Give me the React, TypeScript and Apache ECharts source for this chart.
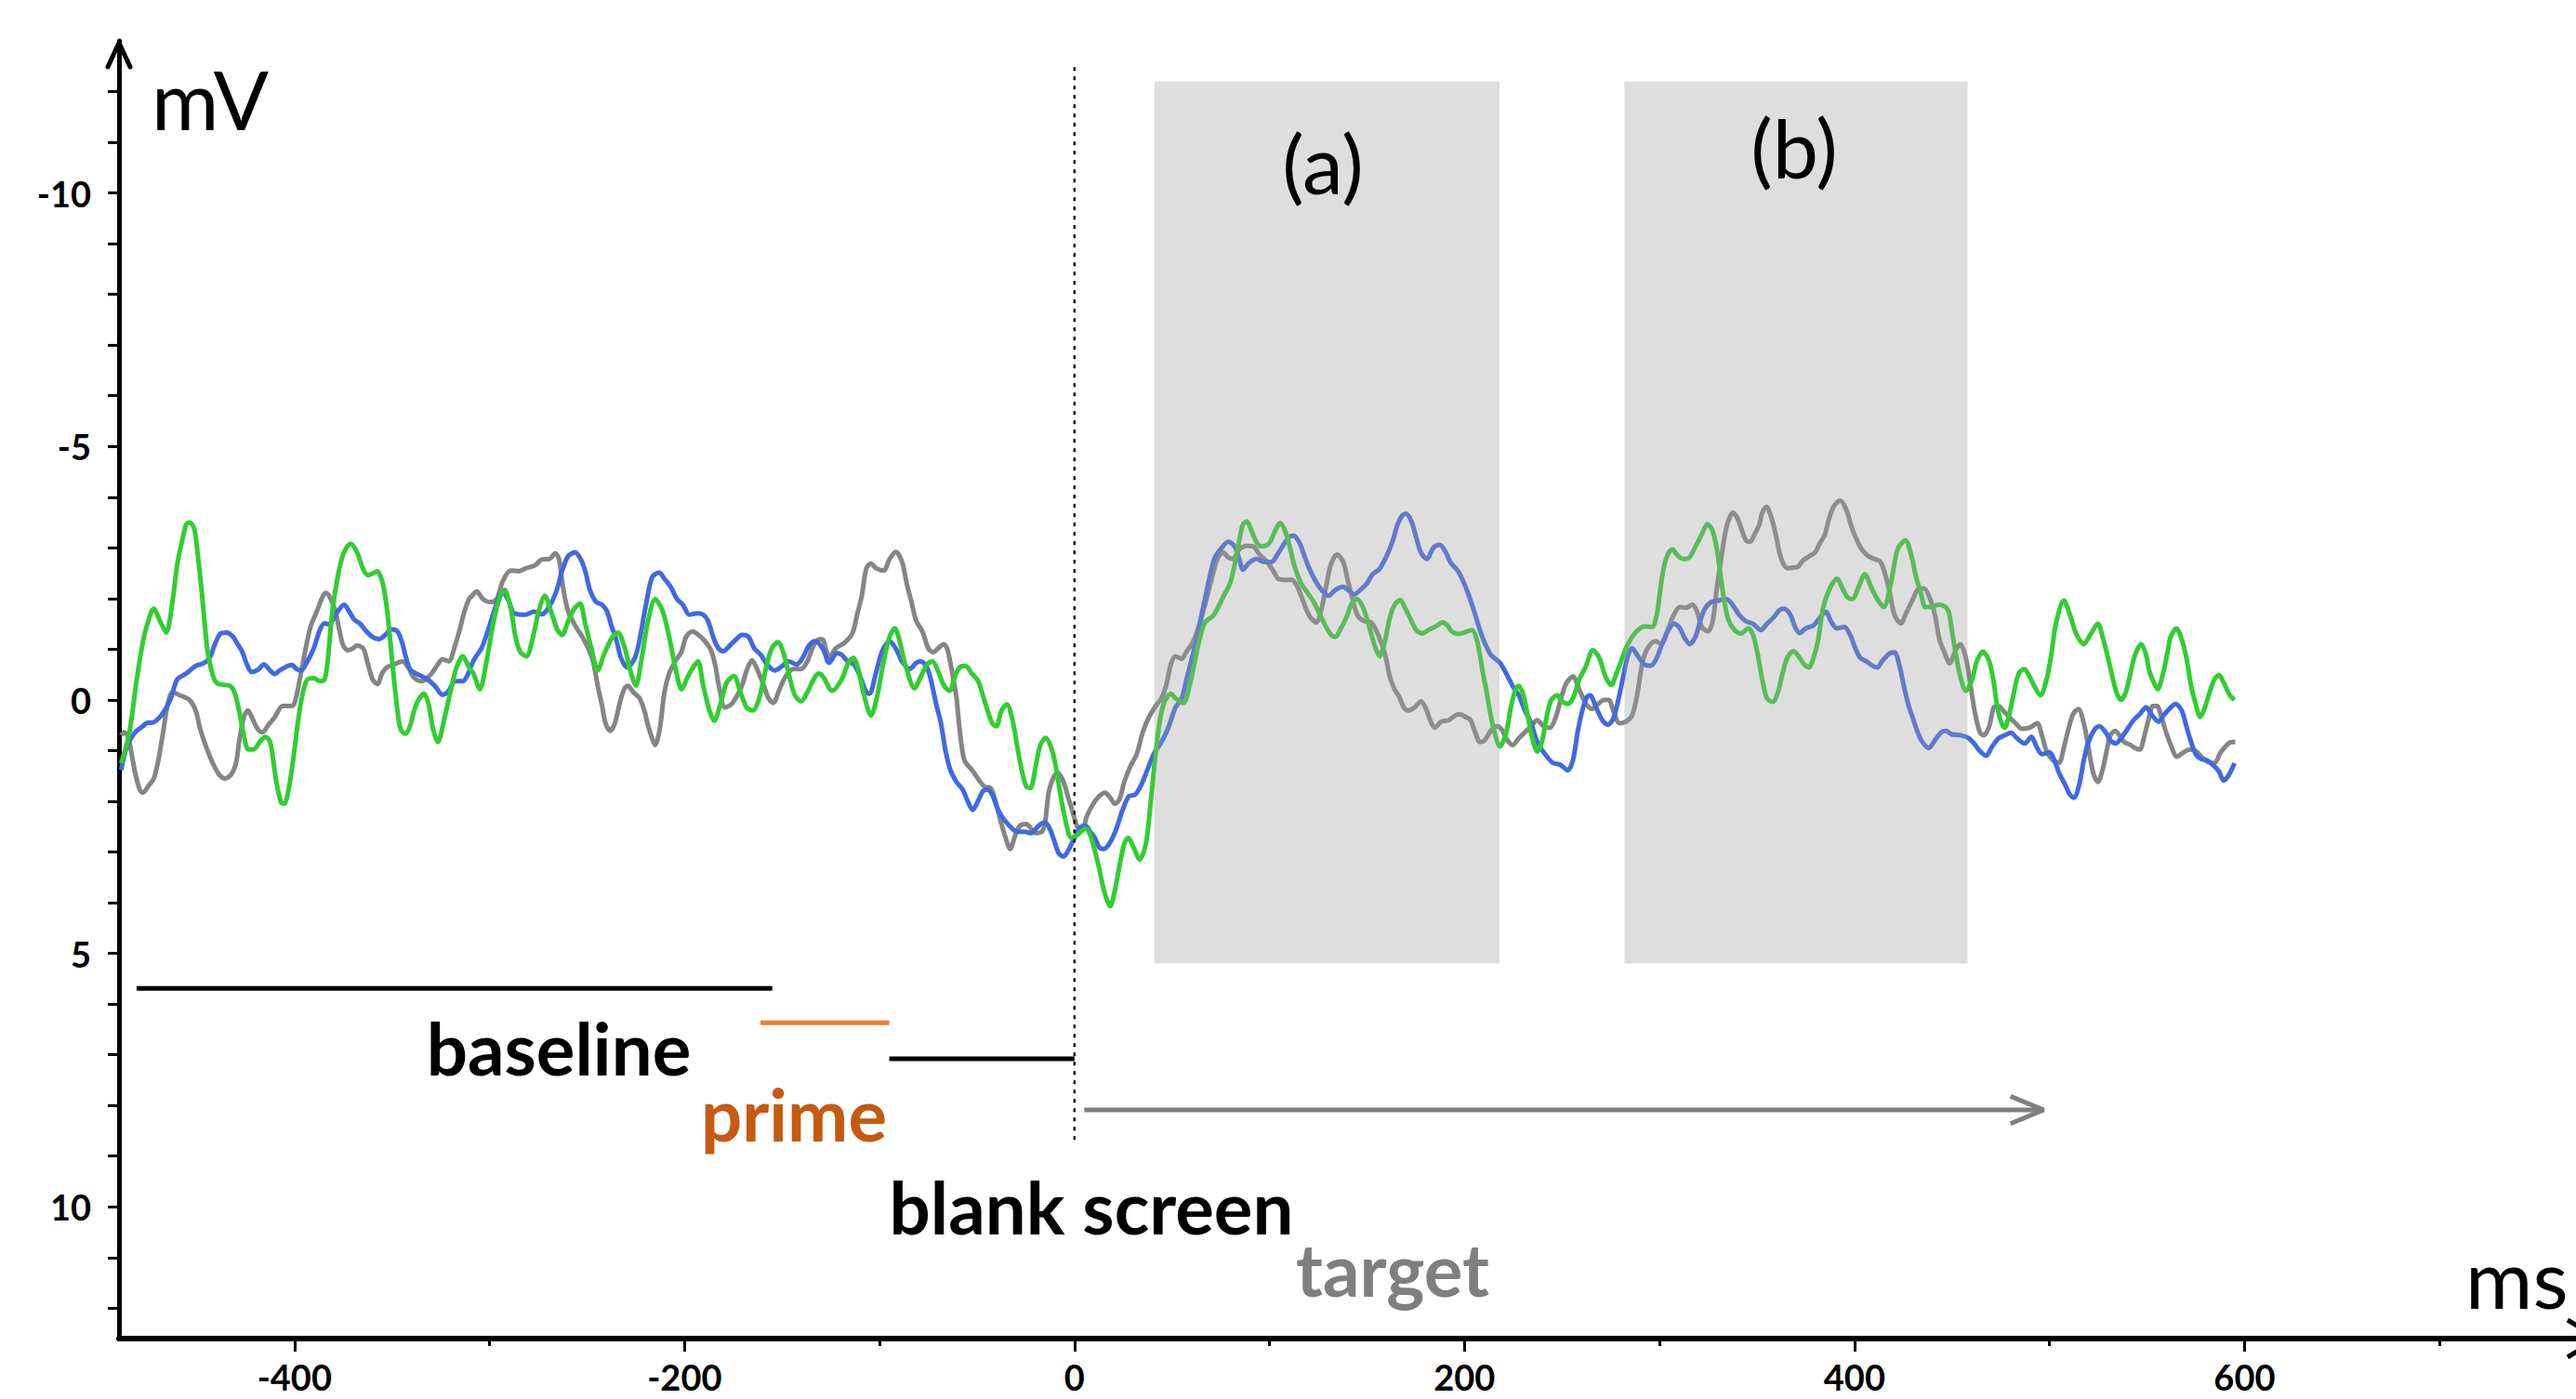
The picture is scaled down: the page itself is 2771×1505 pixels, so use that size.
import React, { useEffect, useRef } from "react";
import * as echarts from "echarts";

const W = 2771;
const H = 1505;

// ---- data (ms, mV) ----
const grayData: [number, number][] = [
[-488.9,0.70],[-487.3,0.64],[-485.4,0.73],[-483.8,1.01],[-481.7,1.44],[-479.4,1.77],[-477.8,1.83],[-474.6,1.68],[-472.2,1.56],[-469.8,1.19],[-467.4,0.64],[-465.0,0.09],[-462.6,-0.15],[-458.7,-0.09],[-453.9,0.00],[-450.7,0.21],[-448.3,0.58],[-445.1,0.95],[-441.9,1.25],[-438.7,1.47],[-435.6,1.55],[-432.4,1.47],[-430.0,1.25],[-428.4,0.83],[-426.0,0.34],[-423.9,0.21],[-421.2,0.40],[-418.8,0.58],[-416.5,0.64],[-413.3,0.49],[-410.1,0.34],[-406.1,0.12],[-401.3,0.12],[-399.7,0.03],[-397.3,-0.40],[-394.9,-0.89],[-391.8,-1.44],[-388.6,-1.74],[-385.4,-2.05],[-383.8,-2.11],[-381.4,-1.99],[-379.0,-1.74],[-376.6,-1.31],[-375.0,-1.07],[-372.7,-0.98],[-370.3,-1.01],[-367.9,-1.07],[-364.7,-1.01],[-362.3,-0.70],[-359.9,-0.40],[-357.5,-0.31],[-355.1,-0.52],[-352.7,-0.64],[-348.8,-0.70],[-344.8,-0.76],[-341.6,-0.64],[-339.2,-0.46],[-335.2,-0.37],[-332.8,-0.40],[-329.7,-0.52],[-326.5,-0.70],[-324.1,-0.80],[-320.9,-0.76],[-317.7,-1.07],[-315.3,-1.38],[-312.9,-1.74],[-310.5,-1.99],
[-309.0,-2.05],[-306.6,-2.14],[-303.4,-1.99],[-299.5,-1.93],[-296.3,-1.99],[-293.1,-2.35],[-289.1,-2.55],[-285.1,-2.54],[-281.1,-2.60],[-276.4,-2.66],[-273.2,-2.77],[-269.2,-2.78],[-266.3,-2.89],[-264.4,-2.78],[-262.8,-2.35],[-261.2,-1.99],[-259.6,-1.74],[-255.7,-1.44],[-252.5,-1.25],[-249.3,-1.01],[-246.9,-0.76],[-244.5,-0.28],[-242.1,0.15],[-240.5,0.46],[-238.1,0.61],[-235.7,0.46],[-233.4,0.09],[-231.0,-0.21],[-229.1,-0.28],[-226.2,-0.15],[-223.0,-0.03],[-220.6,0.21],[-219.0,0.46],[-216.6,0.76],[-215.0,0.89],[-212.7,0.58],[-210.3,-0.15],[-207.9,-0.52],[-204.7,-0.76],[-201.5,-0.95],[-199.1,-1.25],[-195.9,-1.35],[-192.8,-1.28],[-189.6,-1.16],[-186.4,-0.98],[-184.0,-0.64],[-182.4,-0.28],[-179.2,0.15],[-176.0,0.09],[-172.9,-0.09],[-170.5,-0.28],[-168.1,-0.58],[-165.4,-0.78],[-162.5,-0.58],[-159.3,-0.28],[-156.9,-0.03],[-154.5,0.06],[-151.3,-0.21],[-148.2,-0.46],[-144.2,-0.61],[-140.2,-0.61],[-137.0,-0.76],[-133.8,-1.07],[-130.6,-1.20],
[-129.0,-1.19],[-125.8,-0.83],[-122.6,-1.01],[-117.9,-1.13],[-113.9,-1.31],[-111.5,-1.68],[-109.1,-2.05],[-106.7,-2.60],[-104.3,-2.69],[-101.9,-2.60],[-97.9,-2.55],[-94.8,-2.78],[-91.6,-2.92],[-88.4,-2.72],[-86.0,-2.29],[-83.6,-1.93],[-81.2,-1.56],[-78.0,-1.35],[-74.9,-1.01],[-72.5,-0.94],[-69.3,-1.04],[-67.2,-1.10],[-65.3,-1.01],[-62.9,-0.58],[-60.5,-0.03],[-58.9,0.58],[-56.5,1.19],[-52.6,1.38],[-49.4,1.56],[-46.2,1.71],[-43.0,1.74],[-40.6,1.99],[-38.2,2.35],[-35.8,2.66],[-33.0,2.94],[-30.3,2.66],[-27.9,2.48],[-24.7,2.45],[-22.3,2.54],[-19.9,2.63],[-16.7,2.60],[-15.1,2.42],[-13.1,1.80],[-10.4,1.50],[-8.4,1.44],[-5.6,1.62],[-3.2,1.93],[-0.8,2.23],[1.6,2.51],[4.0,2.54],[6.4,2.29],[9.6,2.05],[12.7,1.90],[15.6,1.83],[18.3,1.93],[20.7,2.05],[23.1,1.96],[25.5,1.62],[28.7,1.31],[31.9,1.07],[35.0,0.64],[38.2,0.34],[42.2,0.09],[44.6,-0.03],[47.0,-0.28],[49.4,-0.70],[51.8,-0.86],
[55.0,-0.81],[57.4,-0.95],[60.6,-1.13],[63.7,-1.44],[66.9,-1.87],[70.1,-2.35],[73.3,-2.78],[76.2,-2.91],[78.9,-2.81],[81.3,-2.78],[84.5,-2.97],[88.4,-3.04],[91.6,-3.03],[94.8,-2.87],[98.8,-2.72],[102.0,-2.54],[104.4,-2.39],[107.5,-2.37],[111.5,-2.37],[113.9,-2.26],[116.3,-2.05],[118.7,-1.80],[121.1,-1.62],[124.0,-1.53],[126.7,-1.80],[129.0,-2.23],[131.4,-2.66],[134.6,-2.87],[137.8,-2.72],[140.2,-2.35],[142.6,-1.99],[145.0,-1.68],[148.2,-1.56],[152.1,-1.53],[156.1,-1.25],[159.3,-0.89],[161.7,-0.46],[164.1,-0.21],[166.5,-0.06],[168.9,0.15],[171.3,0.21],[174.4,0.15],[177.6,0.03],[180.0,0.15],[182.4,0.40],[184.8,0.55],[188.0,0.43],[191.9,0.40],[195.1,0.31],[197.5,0.28],[200.7,0.34],[203.1,0.40],[205.5,0.64],[207.9,0.83],[210.3,0.80],[213.5,0.61],[216.6,0.52],[219.0,0.58],[221.4,0.76],[224.6,0.89],[227.8,0.76],[231.0,0.64],[234.2,0.52],
[237.3,0.40],[240.5,0.52],[243.7,0.55],[246.8,0.34],[250.0,-0.09],[252.4,-0.34],[255.6,-0.46],[258.8,-0.21],[262.0,0.06],[265.2,0.18],[268.3,0.09],[271.5,0.00],[273.9,0.00],[276.3,0.21],[279.5,0.46],[282.7,0.43],[285.9,0.31],[288.2,-0.03],[289.8,-0.40],[291.4,-0.76],[293.8,-1.01],[297.8,-1.16],[301.0,-1.10],[304.2,-1.38],[307.4,-1.68],[310.5,-1.83],[313.7,-1.82],[316.9,-1.88],[319.3,-1.74],[321.7,-1.44],[324.9,-1.35],[327.3,-1.56],[329.3,-2.17],[331.6,-2.78],[333.6,-3.27],[335.2,-3.52],[337.6,-3.70],[340.0,-3.58],[342.4,-3.33],[344.3,-3.15],[346.4,-3.12],[348.8,-3.27],[351.2,-3.46],[352.7,-3.70],[354.8,-3.81],[357.5,-3.58],[359.9,-3.21],[361.5,-2.91],[363.1,-2.72],[365.5,-2.60],[368.7,-2.61],[371.1,-2.63],[373.5,-2.75],[376.6,-2.83],[379.8,-2.91],[382.2,-3.09],[384.6,-3.24],[387.0,-3.58],[389.4,-3.82],[392.6,-3.93],[395.7,-3.76],[398.1,-3.46],[400.5,-3.21],[403.7,-2.97],[406.9,-2.84],[410.1,-2.78],[413.3,-2.72],[415.7,-2.48],
[418.1,-2.11],[420.5,-1.68],[423.7,-1.51],[426.8,-1.74],[430.0,-1.99],[432.4,-2.17],[435.6,-2.20],[438.8,-1.99],[441.2,-1.68],[443.6,-1.19],[446.0,-0.95],[448.8,-0.72],[451.5,-0.95],[454.2,-1.10],[457.1,-0.83],[459.5,-0.28],[461.9,0.28],[464.3,0.64],[466.3,0.70],[469.1,0.52],[471.4,0.15],[473.8,0.12],[476.2,0.21],[479.4,0.34],[482.6,0.46],[485.8,0.57],[489.8,0.55],[493.7,0.46],[496.1,0.70],[498.5,1.01],[501.7,1.19],[504.9,1.24],[507.3,0.95],[509.7,0.58],[512.1,0.28],[514.8,0.18],[517.6,0.46],[520.0,0.95],[522.4,1.44],[524.8,1.62],[527.2,1.38],[529.6,0.95],[531.2,0.70],[533.6,0.61],[535.9,0.70],[538.3,0.83],[541.5,0.89],[543.9,0.95],[546.3,0.98],[548.7,0.70],[551.1,0.34],[553.0,0.12],[555.1,0.12],[557.4,0.34],[559.8,0.64],[562.2,0.89],[565.4,1.12],[568.6,1.04],[571.8,0.98],[575.0,1.01],[578.1,1.13],[581.3,1.22],[584.5,1.25],[587.7,1.04],[590.9,0.89],[593.3,0.83],[595.3,0.83]
];

const blueData: [number, number][] = [
[-488.9,1.38],[-485.7,0.89],[-481.7,0.64],[-477.8,0.52],[-475.4,0.45],[-473.0,0.45],[-469.8,0.37],[-466.6,0.21],[-463.4,-0.03],[-460.2,-0.40],[-455.5,-0.52],[-450.7,-0.67],[-446.7,-0.72],[-443.5,-0.83],[-441.1,-1.07],[-437.9,-1.31],[-434.8,-1.33],[-431.6,-1.25],[-429.2,-1.10],[-426.8,-0.95],[-424.4,-0.70],[-422.0,-0.55],[-418.8,-0.59],[-415.7,-0.70],[-412.5,-0.58],[-410.1,-0.51],[-407.7,-0.58],[-404.5,-0.65],[-401.3,-0.69],[-399.0,-0.61],[-396.6,-0.58],[-393.4,-0.76],[-390.2,-1.01],[-387.0,-1.38],[-384.6,-1.51],[-382.2,-1.49],[-379.8,-1.62],[-377.4,-1.77],[-374.6,-1.88],[-371.9,-1.74],[-369.5,-1.59],[-366.3,-1.50],[-363.1,-1.35],[-359.9,-1.24],[-356.7,-1.20],[-353.5,-1.28],[-350.4,-1.39],[-347.2,-1.35],[-344.8,-1.13],[-343.2,-0.89],[-340.8,-0.61],[-337.6,-0.52],[-332.8,-0.43],[-328.1,-0.28],[-324.1,-0.10],[-320.9,-0.18],[-317.7,-0.37],[-313.7,-0.37],[-310.5,-0.55],
[-309.8,-0.64],[-307.4,-0.83],[-304.2,-1.01],[-301.8,-1.25],[-298.7,-1.62],[-295.5,-1.99],[-293.1,-2.11],[-289.9,-1.93],[-287.5,-1.71],[-281.9,-1.68],[-277.2,-1.74],[-273.2,-1.69],[-270.0,-1.80],[-266.0,-2.11],[-262.8,-2.54],[-259.6,-2.84],[-256.1,-2.91],[-253.3,-2.78],[-250.9,-2.54],[-248.5,-2.17],[-245.3,-1.93],[-242.1,-1.87],[-239.7,-1.74],[-237.3,-1.44],[-235.0,-1.19],[-232.6,-0.83],[-229.4,-0.64],[-225.4,-0.83],[-223.0,-1.19],[-219.8,-1.87],[-216.6,-2.42],[-213.0,-2.51],[-210.3,-2.39],[-207.1,-2.23],[-203.9,-1.99],[-200.7,-1.87],[-197.5,-1.68],[-193.5,-1.71],[-190.4,-1.68],[-188.0,-1.56],[-184.8,-1.19],[-182.4,-1.01],[-180.0,-0.96],[-176.8,-1.07],[-173.6,-1.19],[-170.5,-1.28],[-167.3,-1.25],[-164.1,-1.01],[-160.9,-0.89],[-157.7,-0.70],[-153.7,-0.58],[-149.8,-0.67],[-146.6,-0.76],[-142.6,-0.70],[-139.4,-0.83],[-136.2,-1.07],[-133.0,-1.16],[-129.0,-1.01],
[-125.8,-0.73],[-121.8,-0.92],[-119.4,-0.89],[-116.3,-0.76],[-113.1,-0.70],[-109.9,-0.46],[-106.7,-0.15],[-105.1,-0.12],[-101.9,-0.52],[-98.7,-0.95],[-94.8,-1.16],[-91.6,-1.01],[-88.4,-0.76],[-84.4,-0.61],[-81.2,-0.73],[-78.8,-0.76],[-75.6,-0.64],[-73.3,-0.34],[-70.9,0.09],[-68.5,0.46],[-66.1,1.01],[-63.7,1.38],[-60.5,1.62],[-57.3,1.77],[-54.9,1.99],[-52.2,2.17],[-49.4,1.99],[-47.0,1.80],[-44.6,1.77],[-42.2,1.87],[-39.8,2.11],[-37.4,2.29],[-33.4,2.48],[-29.5,2.60],[-25.5,2.60],[-22.3,2.63],[-18.3,2.48],[-15.1,2.42],[-12.7,2.54],[-10.4,2.78],[-8.0,3.03],[-5.6,3.09],[-3.2,2.97],[0.0,2.72],[3.2,2.51],[5.6,2.48],[8.0,2.60],[10.4,2.72],[12.7,2.91],[15.1,2.94],[18.3,2.81],[21.5,2.54],[24.7,2.17],[27.9,1.90],[31.1,1.87],[34.2,1.68],[37.4,1.38],[40.6,1.07],[44.6,0.83],[47.8,0.58],[51.8,0.15],
[55.0,-0.03],[57.4,-0.40],[59.8,-0.76],[62.2,-1.13],[64.5,-1.56],[66.9,-1.99],[69.3,-2.42],[71.7,-2.78],[74.9,-2.97],[78.9,-3.12],[82.1,-3.03],[84.5,-2.78],[86.4,-2.57],[89.2,-2.69],[93.2,-2.78],[97.2,-2.72],[101.2,-2.72],[103.6,-2.84],[106.7,-3.03],[110.0,-3.21],[112.3,-3.24],[115.5,-3.09],[117.9,-2.84],[120.3,-2.60],[123.5,-2.35],[126.7,-2.17],[130.3,-2.05],[133.8,-2.17],[137.8,-2.23],[140.2,-2.17],[143.4,-2.08],[146.6,-2.17],[149.8,-2.29],[152.9,-2.48],[156.1,-2.57],[158.5,-2.72],[160.9,-2.91],[163.3,-3.15],[165.7,-3.46],[168.1,-3.64],[170.0,-3.67],[172.8,-3.52],[175.2,-3.21],[177.6,-2.91],[180.8,-2.78],[184.0,-3.00],[187.2,-3.06],[190.4,-2.91],[192.7,-2.72],[196.7,-2.54],[199.9,-2.29],[202.3,-2.05],[205.5,-1.68],[207.9,-1.38],[210.3,-1.13],[213.5,-0.89],[218.2,-0.73],[221.4,-0.52],[224.6,-0.28],[227.8,-0.09],[231.0,0.21],[234.2,0.46],
[237.3,0.83],[241.3,1.07],[245.2,1.24],[249.2,1.28],[252.9,1.39],[255.6,1.19],[258.0,0.64],[260.4,0.21],[262.8,-0.06],[264.4,-0.09],[267.5,0.15],[270.7,0.40],[273.6,0.49],[276.3,0.37],[278.7,0.03],[281.1,-0.40],[283.5,-0.83],[285.9,-1.02],[289.0,-0.86],[292.2,-0.70],[295.4,-0.67],[298.6,-0.83],[301.0,-1.07],[304.2,-1.35],[307.4,-1.50],[310.5,-1.41],[312.9,-1.22],[315.6,-1.10],[318.5,-1.25],[320.9,-1.56],[323.3,-1.80],[326.5,-1.93],[330.4,-1.96],[334.4,-1.99],[337.6,-1.87],[340.8,-1.68],[344.0,-1.56],[348.0,-1.50],[352.0,-1.38],[355.1,-1.50],[358.3,-1.62],[361.5,-1.77],[363.9,-1.80],[367.1,-1.68],[369.5,-1.44],[371.9,-1.32],[375.0,-1.41],[379.0,-1.47],[382.2,-1.62],[385.4,-1.74],[387.8,-1.56],[391.0,-1.41],[394.9,-1.44],[398.1,-1.25],[400.5,-1.01],[402.9,-0.83],[406.1,-0.76],[409.3,-0.67],[411.7,-0.64],[414.1,-0.76],
[418.1,-0.92],[420.5,-0.94],[422.9,-0.70],[425.3,-0.28],[427.6,0.09],[430.0,0.37],[432.4,0.64],[434.8,0.83],[438.0,0.95],[441.2,0.80],[444.4,0.64],[446.8,0.61],[449.9,0.68],[454.7,0.70],[458.7,0.76],[461.9,0.89],[464.3,1.01],[467.5,1.10],[470.6,0.92],[473.8,0.76],[477.0,0.70],[480.2,0.65],[483.4,0.76],[487.4,0.86],[490.6,0.73],[493.7,0.95],[496.1,1.07],[500.1,1.04],[502.5,1.19],[504.9,1.44],[508.1,1.68],[510.5,1.87],[512.5,1.93],[515.2,1.68],[517.6,1.19],[520.0,0.83],[523.2,0.58],[525.6,0.52],[528.8,0.64],[531.2,0.80],[533.9,0.86],[536.7,0.76],[539.9,0.58],[543.1,0.40],[546.3,0.28],[549.5,0.15],[552.7,0.31],[555.9,0.43],[559.0,0.28],[562.2,0.15],[564.6,0.08],[567.8,0.21],[570.2,0.52],[572.6,0.83],[575.0,1.07],[577.4,1.16],[580.5,1.19],[583.7,1.28],[586.9,1.41],[589.3,1.59],[591.7,1.50],[594.9,1.25]
];

const greenData: [number, number][] = [
[-488.9,1.25],[-484.9,0.70],[-480.9,-0.40],[-477.8,-1.13],[-475.4,-1.50],[-472.2,-1.80],[-469.0,-1.56],[-465.8,-1.33],[-462.6,-1.93],[-460.2,-2.66],[-457.9,-3.09],[-455.5,-3.46],[-453.9,-3.50],[-451.5,-3.39],[-449.9,-2.97],[-447.5,-2.11],[-445.9,-1.44],[-444.3,-0.89],[-441.1,-0.40],[-438.7,-0.31],[-433.2,-0.28],[-430.8,-0.15],[-428.4,0.21],[-426.0,0.70],[-423.6,0.98],[-421.2,0.98],[-417.2,0.80],[-414.8,0.73],[-412.5,0.83],[-410.9,1.19],[-409.3,1.62],[-406.9,2.02],[-405.3,2.05],[-402.9,1.74],[-400.5,1.13],[-398.1,0.40],[-395.7,-0.15],[-393.4,-0.40],[-390.2,-0.43],[-387.0,-0.37],[-384.6,-0.40],[-383.0,-0.76],[-380.6,-1.74],[-378.2,-2.35],[-375.8,-2.78],[-373.4,-3.00],[-371.1,-3.08],[-367.9,-2.91],[-364.7,-2.57],[-362.3,-2.46],[-359.1,-2.51],[-357.5,-2.54],[-355.1,-2.35],[-353.5,-2.05],[-351.9,-1.56],[-349.6,-0.64],[-347.2,0.21],[-345.6,0.58],[-343.2,0.67],[-340.8,0.52],[-337.6,0.09],[-333.6,-0.12],[-331.2,0.09],[-328.9,0.58],[-326.5,0.83],[-323.3,0.40],[-320.1,-0.15],[-316.9,-0.64],[-313.7,-0.86],[-310.5,-0.64],
[-308.2,-0.52],[-305.0,-0.21],[-301.8,-0.70],[-298.7,-1.38],[-295.5,-1.93],[-292.3,-2.17],[-289.1,-1.80],[-286.7,-1.25],[-284.3,-0.95],[-281.1,-0.86],[-278.0,-1.19],[-274.8,-1.74],[-271.6,-2.05],[-268.4,-1.74],[-265.2,-1.38],[-262.8,-1.28],[-259.6,-1.56],[-256.5,-1.80],[-253.6,-1.90],[-250.9,-1.50],[-247.7,-1.01],[-244.5,-0.58],[-241.3,-0.89],[-237.3,-1.22],[-234.2,-1.33],[-231.0,-1.07],[-227.8,-0.58],[-224.9,-0.28],[-222.2,-0.76],[-219.0,-1.50],[-215.0,-1.99],[-211.1,-1.74],[-207.9,-1.25],[-204.7,-0.64],[-201.5,-0.21],[-198.3,-0.46],[-195.6,-0.64],[-193.1,-0.76],[-190.4,-0.28],[-187.2,0.21],[-184.8,0.41],[-181.6,0.09],[-178.4,-0.34],[-174.7,-0.47],[-171.3,-0.15],[-168.1,0.15],[-164.9,0.21],[-161.7,-0.03],[-158.5,-0.58],[-155.3,-1.01],[-152.1,-1.14],[-149.0,-0.89],[-145.8,-0.40],[-143.4,-0.09],[-140.2,0.03],[-137.0,-0.15],[-133.8,-0.40],[-131.4,-0.52],[-129.0,-0.46],
[-124.2,-0.18],[-119.4,-0.40],[-116.3,-0.70],[-113.4,-0.83],[-110.7,-0.58],[-108.3,-0.15],[-104.3,0.31],[-101.1,-0.09],[-97.9,-0.76],[-94.8,-1.25],[-92.1,-1.41],[-89.5,-1.13],[-86.8,-0.70],[-82.0,-0.23],[-78.8,-0.46],[-75.6,-0.70],[-72.9,-0.76],[-70.1,-0.58],[-66.9,-0.28],[-64.0,-0.18],[-61.3,-0.46],[-58.9,-0.64],[-56.1,-0.67],[-52.6,-0.52],[-49.4,-0.37],[-47.0,-0.09],[-44.6,0.21],[-42.2,0.46],[-40.1,0.52],[-37.4,0.21],[-34.7,0.09],[-31.8,0.40],[-29.5,0.89],[-27.1,1.38],[-24.7,1.71],[-22.6,1.74],[-19.9,1.31],[-17.5,0.89],[-14.8,0.75],[-11.9,0.95],[-9.6,1.31],[-7.2,1.87],[-4.8,2.35],[-1.6,2.72],[1.6,2.66],[5.6,2.54],[8.0,2.66],[10.4,2.97],[12.7,3.33],[15.1,3.76],[18.3,4.07],[20.7,3.76],[23.1,3.27],[25.5,2.84],[27.5,2.72],[30.3,2.91],[33.4,3.15],[36.6,2.84],[39.0,2.05],[41.4,1.13],[43.8,0.40],[46.2,0.03],[49.4,-0.12],[51.8,-0.03],
[55.8,0.06],[59.0,-0.28],[61.4,-0.70],[63.7,-1.13],[66.9,-1.53],[70.9,-1.65],[73.3,-1.80],[76.5,-2.05],[79.7,-2.29],[82.1,-2.66],[84.5,-3.15],[86.4,-3.46],[88.4,-3.52],[90.8,-3.33],[93.2,-3.12],[95.6,-3.03],[98.0,-3.04],[100.4,-3.12],[102.8,-3.33],[105.5,-3.49],[108.3,-3.30],[110.7,-2.97],[113.1,-2.60],[116.3,-2.29],[119.5,-2.11],[122.7,-1.93],[125.9,-1.68],[129.0,-1.44],[131.9,-1.27],[133.8,-1.24],[136.2,-1.38],[139.4,-1.62],[141.8,-1.87],[144.7,-1.99],[147.4,-1.87],[149.8,-1.62],[152.1,-1.31],[154.5,-1.01],[156.4,-0.86],[159.0,-1.13],[161.7,-1.62],[164.1,-1.87],[167.0,-1.97],[169.7,-1.80],[172.0,-1.62],[175.2,-1.38],[178.4,-1.31],[181.6,-1.38],[184.8,-1.44],[188.8,-1.53],[191.2,-1.47],[193.5,-1.35],[196.7,-1.30],[199.9,-1.33],[203.9,-1.38],[206.3,-1.19],[207.9,-0.89],[209.5,-0.52],[211.1,-0.21],[212.7,0.15],[215.0,0.58],[218.2,0.92],[221.4,0.64],[223.8,0.15],[226.2,-0.21],[227.8,-0.28],[230.2,-0.09],[232.6,0.34],
[234.1,0.64],[237.3,1.02],[239.7,0.83],[242.1,0.34],[244.5,0.00],[247.6,-0.09],[250.0,0.03],[252.9,0.08],[255.6,-0.03],[258.8,-0.40],[262.0,-0.64],[265.9,-0.98],[269.1,-0.83],[272.3,-0.46],[275.2,-0.29],[277.9,-0.52],[280.3,-0.76],[282.7,-1.01],[285.1,-1.19],[289.0,-1.38],[293.0,-1.45],[296.2,-1.44],[298.6,-1.68],[300.2,-2.11],[301.8,-2.54],[304.2,-2.87],[306.6,-2.97],[308.9,-2.87],[312.1,-2.78],[315.3,-2.81],[318.5,-3.03],[321.7,-3.27],[324.6,-3.47],[327.3,-3.33],[329.7,-2.91],[331.2,-2.48],[332.8,-2.05],[335.2,-1.59],[338.4,-1.38],[341.6,-1.31],[345.6,-1.41],[348.0,-1.28],[350.4,-0.89],[352.7,-0.40],[355.1,-0.03],[358.3,0.04],[360.7,-0.15],[363.1,-0.52],[365.5,-0.83],[368.7,-0.96],[371.9,-0.83],[374.2,-0.70],[376.6,-0.64],[379.0,-0.83],[381.4,-1.19],[383.8,-1.80],[387.0,-2.17],[391.0,-2.39],[394.2,-2.17],[396.5,-2.02],[398.9,-1.99],[402.1,-2.23],[405.3,-2.48],[408.5,-2.23],[411.7,-1.99],[414.9,-1.83],
[418.9,-2.35],[422.1,-2.97],[426.1,-3.15],[429.2,-2.84],[431.6,-2.42],[434.0,-2.11],[436.4,-1.83],[439.6,-1.83],[442.8,-1.88],[446.0,-1.85],[448.3,-1.74],[449.9,-1.38],[451.5,-1.01],[453.9,-0.52],[457.1,-0.18],[460.3,-0.40],[462.7,-0.76],[465.9,-0.95],[469.1,-0.76],[471.4,-0.34],[473.0,0.09],[474.9,0.40],[477.0,0.55],[479.4,0.28],[481.8,-0.15],[484.2,-0.52],[487.0,-0.61],[489.8,-0.46],[492.1,-0.28],[495.3,-0.09],[498.5,-0.40],[500.9,-0.89],[503.3,-1.50],[507.3,-1.96],[510.5,-1.68],[513.6,-1.31],[517.6,-1.10],[520.8,-1.28],[524.8,-1.50],[527.2,-1.25],[529.6,-0.89],[531.9,-0.52],[534.3,-0.15],[536.7,0.00],[539.1,-0.15],[541.5,-0.52],[543.9,-0.89],[547.1,-1.10],[549.5,-0.89],[551.1,-0.58],[553.5,-0.34],[555.5,-0.21],[558.2,-0.52],[560.6,-0.95],[562.2,-1.25],[565.1,-1.41],[567.8,-1.19],[570.2,-0.83],[572.6,-0.28],[575.0,0.09],[577.3,0.34],[579.7,0.15],[582.1,-0.15],[584.5,-0.40],[586.9,-0.49],[589.3,-0.34],[592.5,-0.09],[594.9,0.00]
];

// ---- ticks / labels ----
const xLabelValues = [-400, -200, 0, 200, 400, 600];
const xMajorTicks = [-400, -200, 0, 200, 400, 600];
const xMinorTicks = [-300, -100, 100, 300, 500, 700];
const yLabelValues = [-10, -5, 0, 5, 10];
const yTickValues = [-12, -11, -10, -9, -8, -7, -6, -5, -4, -3, -2, -1, 0, 1, 2, 3, 4, 5, 6, 7, 8, 9, 10, 11, 12];

// ---- annotations (ms, mV) ----
const shadeRanges: [number, number][] = [[41, 218], [282, 458]];
const shadeTop = -12.2;
const shadeBottom = 5.2;
const baselineBar: [number, number][] = [[-481, 5.69], [-155, 5.69]];
const primeBar: [number, number][] = [[-161, 6.37], [-95, 6.37]];
const blankBar: [number, number][] = [[-95, 7.08], [0, 7.08]];
const targetArrow: [number, number][] = [[5, 8.09], [497, 8.09]];
const targetHead: [number, number][] = [[480, 7.82], [497, 8.09], [480, 8.36]];
const onsetLine: [number, number][] = [[0, -12.48], [0, 8.77]];

const FONT = "Lato";

export default function App() {
  const ref = useRef<HTMLDivElement>(null);

  useEffect(() => {
    document.body.style.margin = "0";
    document.body.style.overflow = "hidden";
    if (!ref.current) return;
    const chart = echarts.init(ref.current, null, { renderer: "svg" });

    const segSeries = (data: [number, number][], color: string, width: number, extra: any = {}) => ({
      type: "line",
      data,
      showSymbol: false,
      symbol: "none",
      silent: true,
      z: 4,
      lineStyle: { color, width, cap: "butt", ...extra },
    });

    const tickFont = { fontFamily: FONT, fontWeight: "bold", fontSize: 38, color: "#000" };

    chart.setOption({
      animation: false,
      backgroundColor: "#fff",
      grid: { left: 128, right: 0, top: 44, bottom: 65, containLabel: false },
      xAxis: [
        {
          type: "value",
          min: -490,
          max: 770,
          position: "bottom",
          axisLine: { show: true, onZero: false, lineStyle: { color: "#000", width: 6 } },
          axisTick: { show: true, customValues: xMajorTicks, length: 14, lineStyle: { color: "#000", width: 3 } },
          axisLabel: { customValues: xLabelValues, margin: 22, ...tickFont },
          splitLine: { show: false },
        },
        {
          type: "value",
          min: -490,
          max: 770,
          position: "bottom",
          axisLine: { show: false, onZero: false },
          axisTick: { show: true, customValues: xMinorTicks, length: 8, lineStyle: { color: "#000", width: 3 } },
          axisLabel: { show: false },
          splitLine: { show: false },
        },
      ],
      yAxis: {
        type: "value",
        inverse: true,
        min: -13,
        max: 12.6,
        axisLine: { show: true, onZero: false, lineStyle: { color: "#000", width: 5 } },
        axisTick: { show: true, customValues: yTickValues, length: 12, lineStyle: { color: "#000", width: 3 } },
        axisLabel: { customValues: yLabelValues, margin: 30, ...tickFont },
        splitLine: { show: false },
      },
      series: [
        { type: "line", name: "gray", data: grayData, showSymbol: false, smooth: 0.3, silent: true, z: 2, lineStyle: { color: "#858585", width: 5 } },
        { type: "line", name: "blue", data: blueData, showSymbol: false, smooth: 0.3, silent: true, z: 2, lineStyle: { color: "#4169E1", width: 5 } },
        { type: "line", name: "green", data: greenData, showSymbol: false, smooth: 0.3, silent: true, z: 2, lineStyle: { color: "#32CD32", width: 5 } },
        {
          type: "custom",
          name: "windows",
          data: shadeRanges,
          silent: true,
          z: 3,
          renderItem: (params: any, api: any) => {
            const p0 = api.coord([api.value(0), shadeTop]);
            const p1 = api.coord([api.value(1), shadeBottom]);
            return {
              type: "rect",
              shape: { x: p0[0], y: p0[1], width: p1[0] - p0[0], height: p1[1] - p0[1] },
              style: { fill: "rgba(160,160,160,0.35)" },
            };
          },
        },
        segSeries(onsetLine, "#000", 2.5, { type: [4, 6] }),
        segSeries(baselineBar, "#000", 5),
        segSeries(primeBar, "#ED7D31", 5),
        segSeries(blankBar, "#000", 5),
        segSeries(targetArrow, "#7F7F7F", 5),
        segSeries(targetHead, "#7F7F7F", 5),
      ],
      graphic: [
        { type: "polyline", shape: { points: [[116, 72], [128, 46], [140, 72]] }, style: { stroke: "#000", lineWidth: 5, fill: null, lineJoin: "round", lineCap: "round" }, z: 10 },
        { type: "polyline", shape: { points: [[2762, 1420], [2795, 1440], [2762, 1460]] }, style: { stroke: "#000", lineWidth: 5, fill: null }, z: 10 },
        { type: "text", x: 163, y: 106, style: { text: "mV", fontFamily: FONT, fontSize: 88, fill: "#000", align: "left", verticalAlign: "middle" }, z: 10 },
        { type: "text", x: 2652, y: 1374, style: { text: "ms", fontFamily: FONT, fontSize: 88, fill: "#000", align: "left", verticalAlign: "middle" }, z: 10 },
        { type: "text", x: 1423, y: 175, style: { text: "(a)", fontFamily: FONT, fontSize: 88, fill: "#000", align: "center", verticalAlign: "middle" }, z: 10 },
        { type: "text", x: 1930, y: 158, style: { text: "(b)", fontFamily: FONT, fontSize: 88, fill: "#000", align: "center", verticalAlign: "middle" }, z: 10 },
        { type: "text", x: 601, y: 1127, style: { text: "baseline", fontFamily: FONT, fontWeight: "bold", fontSize: 78, fill: "#000", align: "center", verticalAlign: "middle" }, z: 10 },
        { type: "text", x: 854, y: 1198, style: { text: "prime", fontFamily: FONT, fontWeight: "bold", fontSize: 78, fill: "#C55A11", align: "center", verticalAlign: "middle" }, z: 10 },
        { type: "text", x: 1174, y: 1298, style: { text: "blank screen", fontFamily: FONT, fontWeight: "bold", fontSize: 78, fill: "#000", align: "center", verticalAlign: "middle" }, z: 10 },
        { type: "text", x: 1498, y: 1365, style: { text: "target", fontFamily: FONT, fontWeight: "bold", fontSize: 78, fill: "#7F7F7F", align: "center", verticalAlign: "middle" }, z: 10 },
      ],
    });

    return () => chart.dispose();
  }, []);

  return <div ref={ref} style={{ width: W, height: H }} />;
}
